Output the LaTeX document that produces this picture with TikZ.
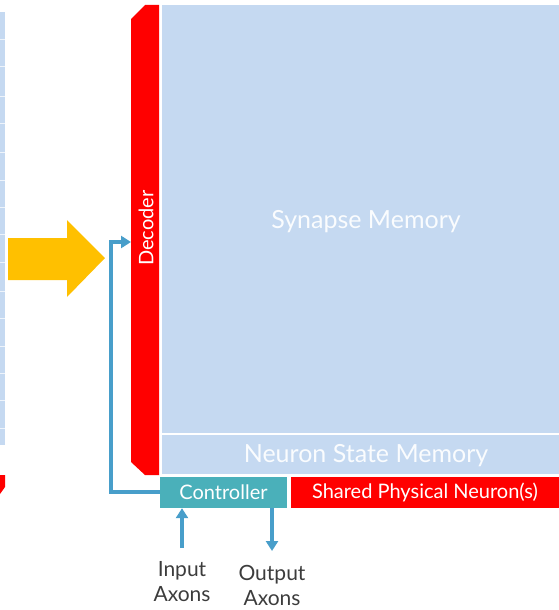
\documentclass[tikz,border=0pt]{standalone}
\usepackage{fontspec}
\setmainfont{Lato}
\usetikzlibrary{arrows.meta}
\definecolor{memblue}{RGB}{197,217,241}
\definecolor{decred}{RGB}{255,0,0}
\definecolor{ctrlteal}{RGB}{74,176,186}
\definecolor{wireblue}{RGB}{72,158,202}
\definecolor{bigyellow}{RGB}{255,192,0}
\definecolor{labelgray}{RGB}{60,60,60}
\tikzset{
  wire/.style={draw=wireblue, line width=3.2pt, -{Triangle[length=10pt,width=12pt]}},
  blocktext/.style={text=white, font=\fontsize{20}{24}\selectfont},
  memtext/.style={text=white!92!memblue, font=\fontsize{25}{30}\selectfont},
  axonlabel/.style={text=labelgray, font=\fontsize{21}{25}\selectfont, align=center},
}
\begin{document}
\begin{tikzpicture}[x=1pt,y=-1pt]
  \useasboundingbox (0,0) rectangle (559,610);

  % neighbouring core, cut off at the left edge
  \fill[memblue] (0,12) rectangle (5,445);
  \foreach \yy in {39,66,96,123,152,180,207,234,262,291,318,346,373,400,428}
    \draw[white!70!memblue, line width=0.6pt] (0,\yy) -- (5,\yy);
  \fill[decred] (0,475) -- (5,475) -- (5,487) -- (0,494) -- cycle;

  % big yellow arrow
  \fill[bigyellow] (8,238) -- (67,238) -- (67,220) -- (105,258) -- (67,297) -- (67,280) -- (8,280) -- cycle;

  % memory arrays
  \fill[memblue] (162,5) rectangle (559,474);
  \draw[white, line width=1.5pt] (162,434) -- (559,434);
  \node[memtext] (syn) at (366,222) {Synapse Memory};
  \node[memtext] (nsm) at (366,456) {Neuron State Memory};

  % decoder
  \fill[decred] (131,19) -- (145,5) -- (159,5) -- (159,475) -- (145,475) -- (131,462) -- cycle;
  \coordinate (decin) at (131,242);
  \node[blocktext, rotate=90] (dec) at (146,228) {Decoder};

  % controller and neuron
  \node[fill=ctrlteal, minimum width=127pt, minimum height=31pt, inner sep=0pt, blocktext] (ctrl) at (223.5,492.5) {Controller};
  \node[fill=decred, minimum width=268pt, minimum height=31pt, inner sep=0pt, blocktext] (spn) at (425,492.5) {Shared Physical Neuron(s)};

  % feedback path from controller to decoder
  \coordinate (turn1) at (111,492);
  \coordinate (turn2) at (111,242);
  \draw[wire] (ctrl.west |- 0,492) -- (turn1) -- (turn2) -- (decin);

  % axon labels and arrows
  \node[axonlabel] (inax) at (182,582) {Input\\Axons};
  \node[axonlabel] (outax) at (272,585) {Output\\Axons};
  \draw[wire] (inax.north |- 0,548) -- (inax.north |- ctrl.south);
  \draw[wire] (outax.north |- ctrl.south) -- (outax.north |- 0,551);
\end{tikzpicture}
\end{document}
